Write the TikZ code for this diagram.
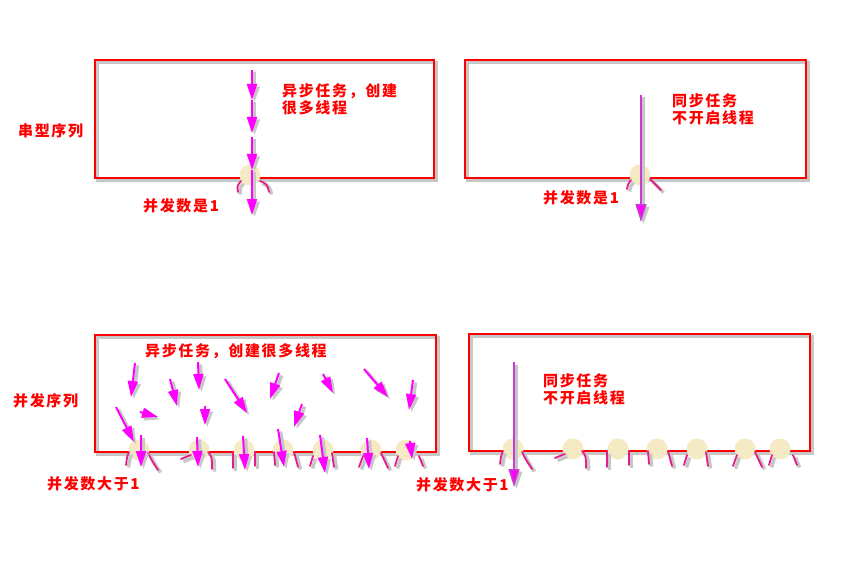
\documentclass[tikz,border=0pt]{standalone}
\usepackage{fontspec}
\usepackage{tikz}
\usetikzlibrary{arrows.meta}
\newfontfamily\cjk{Noto Sans CJK SC}[LetterSpace=11]

\definecolor{thread}{RGB}{255,0,255}
\definecolor{syncline}{RGB}{200,60,210}
\definecolor{leg}{RGB}{228,28,140}
\definecolor{dot}{RGB}{246,234,196}

% one row of gates under a concurrent queue
\newcommand\gaterow[2]{%
  \begin{scope}[shift={(#1,#2)}]
    \foreach \cx in {44,104,149,188,228,276,311}
      \fill[dot] (\cx,-2) circle (10.5pt);
    \draw[leg] (34,0) .. controls (32,5) .. (31,13);
    \draw[leg] (53,1) .. controls (57,9) .. (63,18);
    \draw[leg] (86,7) -- (96,3);
    \draw[leg] (113,0) .. controls (117,5) .. (117,17);
    \draw[leg] (138,0) -- (138,16);
    \draw[leg] (160,0) -- (160,14);
    \draw[leg] (179,0) -- (180,13);
    \draw[leg] (199,0) -- (203,15);
    \draw[leg] (218,4) -- (215,14);
    \draw[leg] (237,1) -- (239,15);
    \draw[leg] (268,4) -- (264,15);
    \draw[leg] (286,1) -- (293,16);
    \draw[leg] (303,4) -- (300,14);
    \draw[leg] (324,4) -- (328,14);
  \end{scope}}

\begin{document}
\begin{tikzpicture}[x=1pt,y=-1pt,
    shade/.style={preaction={draw=black!22,line width=3.5pt,
        transform canvas={shift={(2.5pt,-2.5pt)}}}},
    queue/.style={draw=red,line width=2pt,shade},
    thread/.style={draw=thread,line width=2pt,shade,
        -{Triangle[length=16pt,width=10pt]}},
    sync/.style={draw=syncline,line width=1.6pt,shade,
        -{Triangle[length=18pt,width=11pt,fill=thread]}},
    leg/.style={draw=leg,line width=1.8pt,line cap=round,shade},
    dot/.style={fill=dot},
    label/.style={inner sep=0pt,anchor=north west,align=left,text=red,
        font=\cjk\bfseries\fontsize{15}{17}\selectfont}]
    \fill[white] (0,0) rectangle (845,572);
    \useasboundingbox (0,0) rectangle (845,572);

    % queues
    \draw[queue] (95,60) rectangle (434,178);
    \draw[queue] (465,60) rectangle (806,178);
    \draw[queue] (95,335) rectangle (436,452);
    \draw[queue] (469,334) rectangle (810,451);

    % row titles
    \node[label] (serial) at (18,123) {串型序列};
    \node[label] (concurrent) at (13,393) {并发序列};

    % serial queue, async
    \fill[dot] (250,175) circle (10.5pt);
    \draw[leg] (241,181) .. controls (237,186) .. (238,192);
    \draw[leg] (260,181) .. controls (267,184) .. (269,192);
    \draw[thread] (252,70) -- (252,100);
    \draw[thread] (252,100) -- (252,133);
    \draw[thread] (252,137) -- (252,170);
    \draw[thread] (252,170) -- (252,215);
    \node[label] (sa) at (282,83) {异步任务，创建\\很多线程};
    \node[label] (sn) at (143,198) {并发数是1};

    % serial queue, sync
    \fill[dot] (640,175) circle (10.5pt);
    \draw[leg] (631,180) .. controls (628,184) .. (627,189);
    \draw[leg] (650,179) .. controls (656,184) .. (661,190);
    \draw[sync] (641,95) -- (641,222);
    \node[label] (ss) at (672,93) {同步任务\\不开启线程};
    \node[label] (sm) at (543,190) {并发数是1};

    % concurrent queue, async
    \gaterow{95}{452}
    \draw[thread] (135,363) -- (131,397);
    \draw[thread] (170,379) -- (177,406);
    \draw[thread] (198,362) -- (199,390);
    \draw[thread] (225,379) -- (247,413);
    \draw[thread] (279,373) -- (270,399);
    \draw[thread] (323,374) -- (333,393);
    \draw[thread] (364,369) -- (388,397);
    \draw[thread] (413,380) -- (409,410);
    \draw[thread] (116,407) -- (134,442);
    \draw[thread] (140,412) -- (158,417);
    \draw[thread] (205,406) -- (205,425);
    \draw[thread] (302,404) -- (294,427);
    \draw[thread] (141,435) -- (141,467);
    \draw[thread] (197,437) -- (198,467);
    \draw[thread] (243,436) -- (245,470);
    \draw[thread] (278,429) -- (284,467);
    \draw[thread] (320,435) -- (325,473);
    \draw[thread] (367,438) -- (369,469);
    \draw[thread] (410,441) -- (412,459);
    \node[label] (ca) at (145,343) {异步任务，创建很多线程};
    \node[label] (cn) at (47,476) {并发数大于1};

    % concurrent queue, sync
    \gaterow{469}{451}
    \draw[sync] (514,362) -- (514,487);
    \node[label] (cs) at (543,373) {同步任务\\不开启线程};
    \node[label] (cm) at (416,477) {并发数大于1};
\end{tikzpicture}
\end{document}
